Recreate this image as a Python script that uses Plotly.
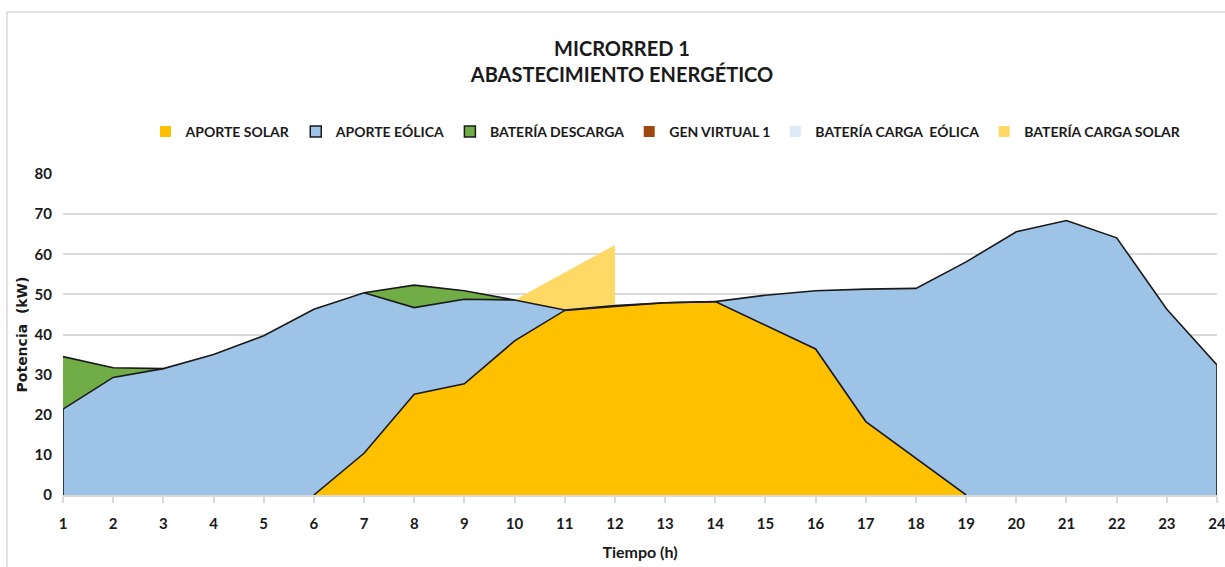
import numpy as np
import plotly.graph_objects as go

hours = list(range(1, 25))
aporte_solar = [0, 0, 0, 0, 0, 0, 10.4, 25.1, 27.7, 38.4, 46.0, 47.0,
                47.9, 48.2, 42.4, 36.4, 18.3, 9.1, 0, 0, 0, 0, 0, 0]
aporte_eolica = [21.4, 29.3, 31.5, 35.0, 39.7, 46.3, 40.0, 21.6, 21.1, 10.2, 0.1, 0.2,
                 0.0, 0.0, 7.4, 14.5, 33.0, 42.4, 58.1, 65.6, 68.4, 64.1, 46.3, 32.4]
bateria_descarga = [13.1, 2.4, 0, 0, 0, 0, 0, 5.6, 2.1, 0, 0, 0,
                    0, 0, 0, 0, 0, 0, 0, 0, 0, 0, 0, 0]
gen_virtual = [0] * 24
bateria_carga_eolica = [0] * 24
bateria_carga_solar = [None] * 9 + [0, 9.3, 15.1] + [None] * 12

names = ["APORTE SOLAR", "APORTE EÓLICA", "BATERÍA DESCARGA", "GEN VIRTUAL 1",
         "BATERÍA CARGA \u00a0EÓLICA", "BATERÍA CARGA SOLAR"]
colors = ["#FFC000", "#9DC3E6", "#70AD47", "#9E480E", "#DEEBF7", "#FFD966"]
borders = [None, "#1a1a1a", "#1a1a1a", None, None, None]

COND = "Lato, Roboto, sans-serif"
OUT = "#1a1a1a"

fig = go.Figure()

stack_series = [aporte_solar, aporte_eolica, bateria_descarga, gen_virtual, bateria_carga_eolica]
for i, ys in enumerate(stack_series):
    fig.add_trace(go.Scatter(x=hours, y=ys, stackgroup="one", mode="lines",
                             line=dict(width=0, color=colors[i]), fillcolor=colors[i],
                             showlegend=False, hoverinfo="skip"))

s = np.array(aporte_solar, float)
e = np.array(aporte_eolica, float)
d = np.array(bateria_descarga, float)
c1 = s
c2 = s + e
c3 = s + e + d

# Battery charge (solar) area on top of the stack
idx = [i for i, v in enumerate(bateria_carga_solar) if v is not None]
bx = [hours[i] for i in idx]
base = [c3[i] for i in idx]
top = [c3[i] + bateria_carga_solar[i] for i in idx]
fig.add_trace(go.Scatter(x=bx + bx[::-1], y=top + base[::-1], fill="toself", mode="lines",
                         line=dict(width=0), fillcolor=colors[5], showlegend=False,
                         hoverinfo="skip"))

def active(arr):
    n = len(arr)
    return [arr[i] > 0 or (i > 0 and arr[i - 1] > 0) or (i < n - 1 and arr[i + 1] > 0)
            for i in range(n)]

# outlines
act_s = active(aporte_solar)
fig.add_trace(go.Scatter(x=hours, y=[c1[i] if act_s[i] else None for i in range(24)],
                         mode="lines", line=dict(color=OUT, width=1.6),
                         showlegend=False, hoverinfo="skip"))
fig.add_trace(go.Scatter(x=[hours[0]] + hours + [hours[-1]], y=[0] + list(c2) + [0],
                         mode="lines", line=dict(color=OUT, width=1.6),
                         showlegend=False, hoverinfo="skip"))
act_d = active(bateria_descarga)
fig.add_trace(go.Scatter(x=hours, y=[c3[i] if act_d[i] else None for i in range(24)],
                         mode="lines", line=dict(color=OUT, width=1.6), connectgaps=False,
                         showlegend=False, hoverinfo="skip"))

# legend entries
for i, nm in enumerate(names):
    fig.add_trace(go.Scatter(x=[None], y=[None], mode="markers", name=nm,
                             marker=dict(symbol="square", size=11, color=colors[i],
                                         line=dict(width=1.5 if borders[i] else 0,
                                                   color=borders[i] or colors[i]))))

L, R, T, B = 63, 8, 174, 72
W, H = 1225, 567
pw = W - L - R
ph = H - T - B

fig.update_layout(
    width=W, height=H,
    margin=dict(l=L, r=R, t=T, b=B, autoexpand=False),
    paper_bgcolor="white", plot_bgcolor="white",
    title=dict(text="MICRORRED 1<br>ABASTECIMIENTO ENERGÉTICO",
               x=622 / W, xanchor="center", y=1 - 56 / H, yanchor="middle",
               font=dict(family=COND, size=20, color="#1a1a1a", weight="bold")),
    legend=dict(orientation="h", x=(666 - L) / pw, xanchor="center",
                y=(H - B - 132) / ph, yanchor="middle", traceorder="normal",
                font=dict(family=COND, size=14, color="#1a1a1a", weight="bold"),
                itemwidth=30, tracegroupgap=0, bgcolor="rgba(0,0,0,0)"),
    xaxis=dict(range=[1, 24], tickmode="linear", tick0=1, dtick=1,
               showgrid=False, showline=True, linecolor="#d9d9d9", linewidth=1.5,
               ticks="outside", ticklen=6, tickcolor="#d9d9d9", tickwidth=1.5,
               ticklabelstandoff=8, ticklabeloverflow="allow",
               tickfont=dict(family=COND, size=15, color="#1a1a1a", weight="bold"),
               title=dict(text="Tiempo (h)", standoff=16,
                          font=dict(family=COND, size=16, color="#1a1a1a", weight="bold")),
               zeroline=False),
    yaxis=dict(range=[0, 80], tickmode="linear", tick0=0, dtick=10,
               showgrid=True, gridcolor="#d9d9d9", gridwidth=1.5,
               showline=False, ticks="", ticklabelstandoff=10,
               tickfont=dict(family=COND, size=15, color="#1a1a1a", weight="bold"),
               title=dict(text="Potencia \u00a0(kW)", standoff=3,
                          font=dict(family="DejaVu Sans, Verdana, sans-serif", size=14,
                                    color="#1a1a1a", weight="bold")),
               zeroline=False),
    shapes=[
        dict(type="line", xref="paper", yref="paper",
             x0=(7 - L) / pw, x1=(W - L) / pw, y0=(H - B - 12) / ph, y1=(H - B - 12) / ph,
             line=dict(color="#d9d9d9", width=1.5)),
        dict(type="line", xref="paper", yref="paper",
             x0=(7 - L) / pw, x1=(7 - L) / pw, y0=(H - B - 12) / ph, y1=-B / ph,
             line=dict(color="#d9d9d9", width=1.5)),
    ],
)

fig.write_html("out.html")
